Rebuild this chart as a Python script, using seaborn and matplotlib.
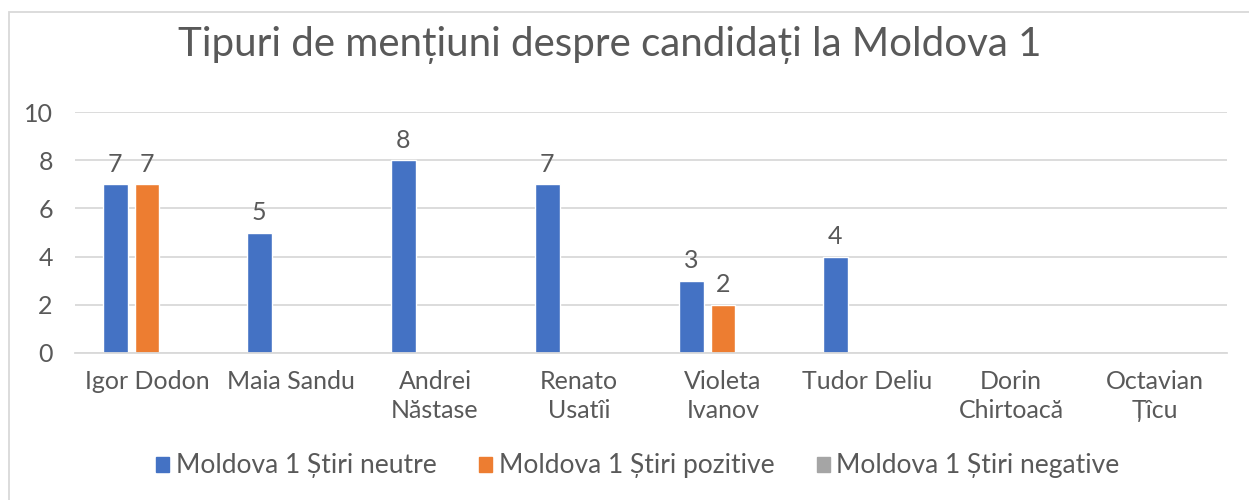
import numpy as np
import pandas as pd
import matplotlib
matplotlib.use("Agg")
import matplotlib.pyplot as plt
import matplotlib.patches as mpatches
import seaborn as sns

# -------------------------------------------------------------
#  Date: mentiuni despre candidati la Moldova 1
# -------------------------------------------------------------

candidati = [
    "Igor Dodon", "Maia Sandu", "Andrei\nNăstase", "Renato\nUsatîi",
    "Violeta\nIvanov", "Tudor Deliu", "Dorin\nChirtoacă", "Octavian\nȚîcu",
]
serii = [
    "Moldova 1 Știri neutre",
    "Moldova 1 Știri pozitive",
    "Moldova 1 Știri negative",
]
neutre   = [7, 5, 8, 7, 3, 4, 0, 0]
pozitive = [7, 0, 0, 0, 2, 0, 0, 0]
negative = [0, 0, 0, 0, 0, 0, 0, 0]

culori = ["#4472C4", "#ED7D31", "#A5A5A5"]
text_gri = "#595959"

df = pd.DataFrame({
    "candidat": candidati * 3,
    "serie": [serii[0]] * 8 + [serii[1]] * 8 + [serii[2]] * 8,
    "valoare": neutre + pozitive + negative,
})

sns.set_theme(style="white")
plt.rcParams["font.family"] = ["Lato", "DejaVu Sans"]

fig = plt.figure(figsize=(12.49, 5.0), dpi=100)
ax = fig.add_axes([75 / 1249, 1 - 353 / 500, (1227 - 75) / 1249, (353 - 112) / 500])

sns.barplot(
    data=df, x="candidat", y="valoare", hue="serie",
    palette=culori, saturation=1, width=0.66, gap=0.23, ax=ax,
    legend=False, errorbar=None,
)

for cont in ax.containers:
    etichete = [f"{int(b.get_height())}" if b.get_height() > 0 else "" for b in cont]
    ax.bar_label(cont, labels=etichete, padding=6, fontsize=18, color=text_gri)

ax.set_ylim(0, 10)
ax.set_yticks(range(0, 11, 2))
ax.set_xlim(-0.5, len(candidati) - 0.5)
ax.grid(axis="y", color="#D9D9D9", linewidth=1.3)
ax.set_axisbelow(True)
for s in ["top", "right", "left"]:
    ax.spines[s].set_visible(False)
ax.spines["bottom"].set_color("#D9D9D9")
ax.spines["bottom"].set_linewidth(1.3)
ax.set_xlabel("")
ax.set_ylabel("")
ax.tick_params(axis="both", length=0, labelsize=18, labelcolor=text_gri)
ax.tick_params(axis="x", pad=12)
ax.tick_params(axis="y", pad=16)
for lbl in ax.get_xticklabels():
    lbl.set_linespacing(1.35)

fig.text(610 / 1249, 1 - 45 / 500, "Tipuri de mențiuni despre candidați la Moldova 1",
         ha="center", va="center", fontsize=29, color=text_gri)

handles = [mpatches.Patch(color=c, label=s) for c, s in zip(culori, serii)]
fig.legend(handles=handles, loc="center", bbox_to_anchor=(638 / 1249, 1 - 466 / 500),
           ncol=3, frameon=False, fontsize=19, labelcolor=text_gri,
           handlelength=0.5, handleheight=0.5, handletextpad=0.25, columnspacing=1.6)

# chenarul graficului (doar stanga si sus sunt vizibile)
fig.patches.append(mpatches.Rectangle(
    (9 / 1249, -0.1), 1.2, 1 - 12 / 500 + 0.1, transform=fig.transFigure,
    fill=False, edgecolor="#D9D9D9", linewidth=1.3))

fig.savefig("out.png", dpi=100)
